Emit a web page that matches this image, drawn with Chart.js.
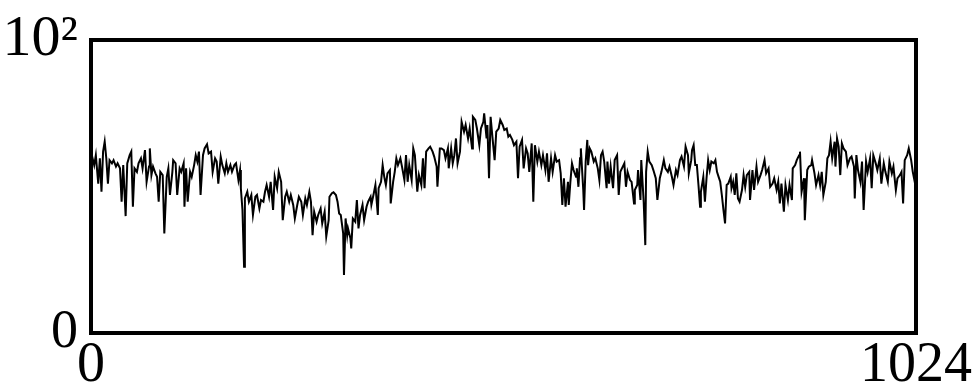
<!DOCTYPE html>
<html><head><meta charset="utf-8">
<script src="https://cdn.jsdelivr.net/npm/chart.js@4.4.1/dist/chart.umd.min.js"></script>
<style>html,body{margin:0;padding:0;background:#fff}</style>
</head><body>
<canvas id="c" width="976" height="389"></canvas>
<script>
// channel index (x) and counts (y)
const channel = [0,
 1,4,6,9,11,13,15,17,19,21,23,26,28,31,33,36,38,40,43,45,48,50,52,54,57,59,62,64,67,69,72,73,75,77,80,82,84,86,89,91,94,96,98,101,102,105,107,110,112,115,116,118,120,123,125,128,130,132,134,136,139,141,144,146,149,
 151,154,156,158,161,163,166,168,170,173,175,178,180,183,185,186,188,190,191,194,196,199,201,204,206,209,211,214,216,218,221,223,226,228,231,233,236,238,241,243,246,248,251,253,256,258,261,263,266,268,271,273,275,277,280,282,285,287,290,292,295,
 296,299,301,304,306,308,310,313,314,316,318,319,322,323,325,328,330,332,334,337,339,342,344,347,348,351,353,356,357,360,362,364,366,368,371,372,375,377,379,381,384,386,389,391,393,395,398,400,402,405,407,410,412,414,416,419,421,424,426,429,430,433,435,438,440,443,
 444,447,449,451,453,455,458,460,463,465,468,470,473,474,477,479,482,484,487,488,491,492,494,496,498,501,503,506,508,511,513,516,518,520,523,525,528,530,532,535,537,540,542,544,547,549,551,554,556,559,561,564,566,568,571,573,576,578,581,583,585,587,589,592,
 593,595,597,599,602,603,605,607,608,611,612,614,616,617,619,621,624,626,629,631,633,635,637,640,641,643,645,648,650,653,655,657,659,662,664,666,669,671,674,675,678,679,682,683,686,688,689,691,693,696,698,701,703,706,708,711,713,716,718,721,723,726,728,731,733,736,738,741,
 742,745,746,748,750,752,754,756,757,760,762,764,766,768,770,773,775,777,779,781,783,785,787,789,791,794,795,797,799,801,803,805,808,810,812,814,817,818,821,823,826,828,831,833,836,838,841,843,846,848,851,853,855,857,860,862,865,867,870,871,874,876,879,880,882,885,886,889,891,
 894,895,898,900,903,905,907,909,912,914,916,918,920,923,924,926,928,930,932,934,937,939,942,944,947,948,950,952,955,957,959,962,964,967,969,971,974,976,979,981,984,986,989,991,994,996,999,1001,1004,1006,1008,1010,1013,1015,1018,1020,1022,1024];
const counts = [58.0,
 60.7,57.3,60.7,51.0,59.6,48.2,61.9,65.3,59.6,51.0,59.0,57.9,59.0,56.8,57.9,56.2,44.8,57.3,39.9,57.9,60.7,61.9,43.1,56.2,55.0,57.9,59.6,56.2,62.4,51.6,56.8,63.0,53.9,56.8,54.5,53.3,44.8,55.0,53.9,34.0,53.3,56.2,47.1,55.0,59.0,57.9,47.1,56.2,55.0,57.9,43.1,56.2,44.8,55.0,53.3,57.3,60.7,58.5,61.9,47.1,60.7,63.0,64.4,61.3,61.9,
 55.0,59.6,58.5,51.0,60.2,57.3,54.5,57.9,55.0,57.3,55.0,57.3,57.9,52.2,55.6,49.4,42.0,22.6,45.9,48.2,44.8,47.1,40.3,46.5,47.1,42.5,45.4,44.8,48.2,50.5,46.5,51.6,42.0,53.3,49.4,55.0,51.6,38.5,46.5,48.2,44.8,47.1,43.7,39.1,43.7,46.5,44.8,40.3,45.9,43.7,48.2,44.8,33.4,41.4,38.0,40.3,42.5,37.4,41.4,32.9,38.5,
 46.5,47.7,48.0,47.1,44.8,40.8,40.3,34.0,19.8,39.1,33.4,35.7,32.3,28.9,39.1,38.0,45.4,35.7,40.3,43.7,38.5,43.1,44.8,46.5,43.7,47.7,50.5,40.3,49.4,51.6,57.3,53.3,50.5,54.5,55.6,44.2,51.6,55.0,59.6,57.3,59.6,56.8,52.2,60.7,51.6,57.3,52.2,63.0,60.7,48.2,53.9,50.5,59.6,49.4,61.9,63.0,63.6,61.9,60.2,56.8,49.9,63.0,63.0,62.4,59.6,63.0,
 56.2,63.0,57.9,60.7,66.4,57.9,61.9,72.1,68.7,71.0,66.4,69.8,63.0,73.8,72.7,69.8,64.1,69.8,72.1,75.0,66.4,71.0,52.8,73.8,67.6,59.0,68.7,69.8,72.7,71.0,69.3,69.8,67.0,67.6,65.9,64.1,65.3,52.8,63.6,65.9,56.2,63.0,61.3,55.0,64.7,44.8,64.1,58.5,61.9,57.3,60.7,55.6,61.3,51.6,59.6,55.0,60.7,58.5,59.0,54.5,43.7,52.8,43.1,51.6,
 43.7,51.6,57.9,55.6,53.3,56.2,49.9,59.6,63.0,48.8,42.0,58.5,65.9,57.3,63.0,61.9,58.5,59.6,56.2,52.2,60.7,61.9,58.5,49.4,58.5,51.0,56.8,49.4,59.0,60.7,47.1,55.0,56.2,57.9,49.9,55.0,52.2,51.6,44.2,48.8,50.5,55.6,45.4,59.0,44.8,30.0,55.0,61.9,58.5,57.3,55.6,52.8,45.4,52.8,55.0,59.0,56.2,55.0,56.8,53.3,50.5,55.6,53.9,59.0,60.2,56.8,63.6,60.7,
 54.5,59.0,62.4,64.1,57.3,57.3,50.5,43.1,48.2,53.3,44.8,52.8,59.0,55.6,58.5,57.9,59.0,55.0,53.3,51.6,47.1,42.0,37.4,50.5,51.0,53.3,49.4,51.6,47.1,54.5,45.9,44.8,48.8,53.9,49.9,53.9,55.0,45.4,55.6,48.8,56.8,51.6,53.9,55.6,59.0,54.5,56.2,49.9,51.0,52.8,48.8,51.6,44.2,51.0,41.4,50.5,45.4,50.5,45.4,56.2,57.3,59.0,60.7,61.9,48.2,52.8,38.5,55.6,56.8,
 57.3,59.0,54.5,50.5,53.9,50.5,55.0,47.1,51.6,59.6,60.7,65.3,59.6,65.3,56.8,66.4,63.6,53.9,64.7,63.0,61.9,57.3,59.6,60.2,56.8,45.9,60.7,55.6,51.6,58.5,42.0,58.5,55.0,59.6,49.4,60.7,57.9,55.6,59.6,51.0,57.9,55.0,51.6,58.5,54.5,56.8,48.8,52.8,53.9,55.0,44.2,59.0,60.7,63.0,59.0,55.0,52.2,55.0];

const xTickValues = [0, 1024];
const xTickLabels = ['0', '1024'];
const yTickValues = [0, 100];
const yTickLabels = ['0', '10\u00B2'];

const points = channel.map((x, i) => ({x: x, y: counts[i]}));
const serif = '"Liberation Serif", "Times New Roman", serif';

const framePlugin = {
  id: 'frame',
  afterDatasetsDraw(chart) {
    const {ctx, chartArea: a} = chart;
    ctx.save();
    ctx.strokeStyle = '#000';
    ctx.lineWidth = 4;
    ctx.strokeRect(a.left, a.top, a.right - a.left, a.bottom - a.top);
    ctx.restore();
  }
};

function noPad(s) { s.paddingTop = 0; s.paddingBottom = 0; s.paddingLeft = 0; s.paddingRight = 0; }

new Chart(document.getElementById('c'), {
  type: 'line',
  data: {datasets: [{data: points, borderColor: '#000', borderWidth: 2, pointRadius: 0, fill: false, tension: 0}]},
  options: {
    responsive: false, animation: false, devicePixelRatio: 1,
    layout: {padding: {left: 0, top: 40, right: 60, bottom: 0}},
    plugins: {legend: {display: false}, tooltip: {enabled: false}},
    scales: {
      x: {
        type: 'linear', min: 0, max: 1024,
        grid: {display: false, drawTicks: false}, border: {display: false},
        afterBuildTicks: s => { s.ticks = xTickValues.map(v => ({value: v})); },
        afterFit: s => { s.height = 56; noPad(s); },
        ticks: {font: {family: serif, size: 56}, color: '#000', padding: 0, maxRotation: 0, autoSkip: false,
                callback: (v, i) => xTickLabels[i]}
      },
      y: {
        type: 'linear', min: 0, max: 100,
        grid: {display: false, drawTicks: false}, border: {display: false},
        afterBuildTicks: s => { s.ticks = yTickValues.map(v => ({value: v})); },
        afterFit: s => { s.width = 91; noPad(s); },
        ticks: {font: c => ({family: serif, size: (c.tick && c.tick.value === 100) ? 58 : 54}),
                color: '#000', padding: 13, autoSkip: false,
                callback: (v, i) => yTickLabels[i]}
      }
    }
  },
  plugins: [framePlugin]
});
</script>
</body></html>
